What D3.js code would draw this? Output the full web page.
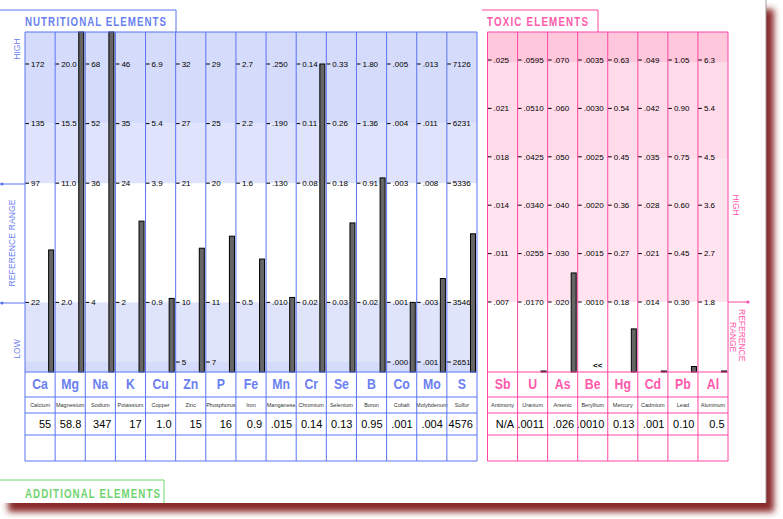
<!DOCTYPE html>
<html>
<head>
<meta charset="utf-8">
<script src="https://cdn.jsdelivr.net/npm/d3@7"></script>
<style>
  body { margin: 0; background: #fff; }
  svg { display: block; font-family: Arial, "Liberation Sans", sans-serif; }
</style>
</head>
<body>
<svg id="chart" width="783" height="519"></svg>
<script>
// ---- data ----
const nutriSymbols = ["Ca","Mg","Na","K","Cu","Zn","P","Fe","Mn","Cr","Se","B","Co","Mo","S"]
const nutriNames = ["Calcium","Magnesium","Sodium","Potassium","Copper","Zinc","Phosphorus","Iron",
                    "Manganese","Chromium","Selenium","Boron","Cobalt","Molybdenum","Sulfur"]
const nutriResults = ["55","58.8","347","17","1.0","15","16","0.9",".015","0.14","0.13","0.95",".001",".004","4576"]
// tick labels, bottom to top: low, ref low, ref high, mid high, high
const nutriTicks = [
  [null,"22","97","135","172"],
  [null,"2.0","11.0","15.5","20.0"],
  [null,"4","36","52","68"],
  [null,"2","24","35","46"],
  [null,"0.9","3.9","5.4","6.9"],
  ["5","10","21","27","32"],
  ["7","11","20","25","29"],
  [null,"0.5","1.6","2.2","2.7"],
  [null,".010",".130",".190",".250"],
  [null,"0.02","0.08","0.11","0.14"],
  [null,"0.03","0.18","0.26","0.33"],
  [null,"0.02","0.91","1.36","1.80"],
  [".000",".001",".003",".004",".005"],
  [".001",".003",".008",".011",".013"],
  ["2651","3546","5336","6231","7126"]
]

const toxicSymbols = ["Sb","U","As","Be","Hg","Cd","Pb","Al"]
const toxicNames = ["Antimony","Uranium","Arsenic","Beryllium","Mercury","Cadmium","Lead","Aluminum"]
const toxicResults = ["N/A",".0011",".026",".0010","0.13",".001","0.10","0.5"]
const toxicBelowLimit = ["Be"]
// tick labels, bottom to top
const toxicTicks = [
  [".007",".011",".014",".018",".021",".025"],
  [".0170",".0255",".0340",".0425",".0510",".0595"],
  [".020",".030",".040",".050",".060",".070"],
  [".0010",".0015",".0020",".0025",".0030",".0035"],
  ["0.18","0.27","0.36","0.45","0.54","0.63"],
  [".014",".021",".028",".035",".042",".049"],
  ["0.30","0.45","0.60","0.75","0.90","1.05"],
  ["1.8","2.7","3.6","4.5","5.4","6.3"]
]

// ---- layout ----
const svg = d3.select('#chart')
const plotTop = 32, plotBottom = 372
const rowLines = [372, 397, 413, 435, 461]
const blue = '#5b74f2', blueText = '#6a80f2'
const pink = '#ff46a6', pinkText = '#ff5aab'

// card + shadow
const defs = svg.append('defs')
defs.append('filter').attr('id', 'shadow')
    .attr('x', '-5%').attr('y', '-5%').attr('width', '110%').attr('height', '110%')
    .append('feGaussianBlur').attr('stdDeviation', 3)
svg.append('rect').attr('x', 8).attr('y', 9).attr('width', 766).attr('height', 503)
    .attr('fill', '#8a2a2a').attr('filter', 'url(#shadow)')
svg.append('rect').attr('x', 0).attr('y', 0).attr('width', 766).attr('height', 503).attr('fill', '#fff')
svg.append('line').attr('x1', 766).attr('x2', 766).attr('y1', 0).attr('y2', 503)
    .attr('stroke', '#9a9a9a')

// condensed, letter-spaced tab title
function tabTitle(x, y, width, colour, label) {
    svg.append('text')
        .attr('transform', 'translate(' + x + ',' + y + ') scale(0.78,1)')
        .attr('font-size', 12.5).attr('font-weight', 'bold').attr('fill', colour)
        .attr('textLength', width / 0.78).attr('lengthAdjust', 'spacing')
        .text(label)
}

// ---- nutritional panel ----
const xN = d3.scaleBand().domain(nutriSymbols).range([25, 477])
const yN = d3.scaleLinear().domain([0, 5]).range([362, 64])   // tick "levels" to pixels
const nutriLevels = [0, 1, 3, 4, 5]

function nutriScale(ticks) {
    let d = [], r = []
    ticks.forEach(function(t, i) {
        if (t !== null) { d.push(+t); r.push(nutriLevels[i]) }
    })
    return d3.scaleLinear().domain(d).range(r)
}

const nBands = [
    [plotTop, yN(4), '#d5dbfa'],
    [yN(4), yN(3), '#dfe3fb'],
    [yN(1), yN(0), '#e0e4fb'],
    [yN(0), plotBottom, '#d5dbfa']
]
svg.append('g').selectAll('rect').data(nBands).enter().append('rect')
    .attr('x', 25).attr('width', 452)
    .attr('y', d => d[0]).attr('height', d => d[1] - d[0])
    .attr('fill', d => d[2])

// bars
const nGroup = svg.append('g').selectAll('g').data(nutriSymbols).enter().append('g')
nGroup.append('rect')
    .attr('x', d => xN(d) + xN.bandwidth() - 6.5)
    .attr('width', 5)
    .attr('y', function(d, i) {
        let s = nutriScale(nutriTicks[i])
        return Math.max(plotTop, yN(s(+nutriResults[i])))
    })
    .attr('height', function(d, i) {
        let s = nutriScale(nutriTicks[i])
        return plotBottom - Math.max(plotTop, yN(s(+nutriResults[i])))
    })
    .attr('fill', '#666').attr('stroke', '#000').attr('stroke-width', 1)

// ticks
nGroup.each(function(sym, i) {
    let ticks = nutriTicks[i].map((t, k) => ({ t: t, lv: nutriLevels[k] })).filter(o => o.t !== null)
    let g = d3.select(this).selectAll('g.tick').data(ticks).enter().append('g')
        .attr('transform', o => 'translate(' + xN(sym) + ',' + yN(o.lv) + ')')
    g.append('line').attr('x1', 0).attr('x2', 4).attr('stroke', '#000')
    g.append('text').attr('x', 6).attr('dy', '0.35em').attr('font-size', 8).text(o => o.t)
})

// grid
const ng = svg.append('g').attr('stroke', blue).attr('fill', 'none')
ng.selectAll('line.v').data(d3.range(16)).enter().append('line')
    .attr('x1', i => 25 + i * xN.bandwidth()).attr('x2', i => 25 + i * xN.bandwidth())
    .attr('y1', plotTop).attr('y2', 461)
ng.selectAll('line.h').data([plotTop].concat(rowLines)).enter().append('line')
    .attr('x1', 25).attr('x2', 477).attr('y1', d => d).attr('y2', d => d)
ng.append('path').attr('d', 'M0,10H176V32')
ng.append('path').attr('d', 'M0,184H25M0,303H25')
svg.selectAll('circle.n').data([184, 303]).enter().append('circle')
    .attr('cx', 2).attr('cy', d => d).attr('r', 1.5).attr('fill', blue)

// table text
nGroup.append('text')
    .attr('transform', d => 'translate(' + (xN(d) + xN.bandwidth() / 2) + ',389) scale(0.82,1)')
    .attr('text-anchor', 'middle').attr('font-size', 15).attr('font-weight', 'bold')
    .attr('fill', blueText).text(d => d)
nGroup.append('text')
    .attr('x', d => xN(d) + xN.bandwidth() / 2).attr('y', 407)
    .attr('text-anchor', 'middle').attr('font-size', 5.5).attr('fill', '#333')
    .text((d, i) => nutriNames[i])
nGroup.append('text')
    .attr('x', d => xN(d) + xN.bandwidth() - 4).attr('y', 428)
    .attr('text-anchor', 'end').attr('font-size', 11).attr('fill', '#000')
    .text((d, i) => nutriResults[i])

// titles and axis words
tabTitle(25, 26, 141, blueText, 'NUTRITIONAL ELEMENTS')
const leftWords = [['HIGH', 19.5, 49, null], ['REFERENCE RANGE', 15, 243, 87], ['LOW', 19.5, 349, null]]
leftWords.forEach(function(w) {
    let t = svg.append('text').attr('transform', 'translate(' + w[1] + ',' + w[2] + ') rotate(-90)')
        .attr('text-anchor', 'middle').attr('font-size', 8.5).attr('fill', blueText).text(w[0])
    if (w[3]) t.attr('textLength', w[3]).attr('lengthAdjust', 'spacing')
})

// ---- toxic panel ----
const xT = d3.scaleBand().domain(toxicSymbols).range([487.5, 728])
const yT = d3.scaleLinear().domain([0, 5]).range([302, 60])

const tBands = [
    [plotTop, yT(5) + 2, '#ffc7dc'],
    [yT(5) + 2, yT(3) + 2, '#ffdbea'],
    [yT(3) + 2, yT(0), '#ffe4ef']
]
svg.append('g').selectAll('rect').data(tBands).enter().append('rect')
    .attr('x', 487.5).attr('width', 240.5)
    .attr('y', d => d[0]).attr('height', d => d[1] - d[0])
    .attr('fill', d => d[2])

const tGroup = svg.append('g').selectAll('g').data(toxicSymbols).enter().append('g')
tGroup.each(function(sym, i) {
    let g = d3.select(this)
    let v = +toxicResults[i]
    let s = d3.scaleLinear().domain([+toxicTicks[i][0], +toxicTicks[i][5]]).range([0, 5])
    if (toxicBelowLimit.includes(sym)) {
        g.append('text').attr('x', xT(sym) + xT.bandwidth() / 2 + 5).attr('y', 368)
            .attr('text-anchor', 'middle').attr('font-size', 8).attr('font-weight', 'bold').text('<<')
    } else if (!isNaN(v)) {
        let y = Math.min(plotBottom - 1, yT(s(v)))
        g.append('rect').attr('x', xT(sym) + xT.bandwidth() - 6.5).attr('width', 5)
            .attr('y', y).attr('height', plotBottom - y)
            .attr('fill', '#666').attr('stroke', '#000')
    }
    let tk = g.selectAll('g.tick').data(toxicTicks[i]).enter().append('g')
        .attr('transform', (t, k) => 'translate(' + xT(sym) + ',' + yT(k) + ')')
    tk.append('line').attr('x1', 0).attr('x2', 4).attr('stroke', '#000')
    tk.append('text').attr('x', 6).attr('dy', '0.35em').attr('font-size', 8).text(t => t)
})

const tg = svg.append('g').attr('stroke', pink).attr('fill', 'none')
tg.selectAll('line.v').data(d3.range(9)).enter().append('line')
    .attr('x1', i => 487.5 + i * xT.bandwidth()).attr('x2', i => 487.5 + i * xT.bandwidth())
    .attr('y1', plotTop).attr('y2', 461)
tg.selectAll('line.h').data([plotTop].concat(rowLines)).enter().append('line')
    .attr('x1', 487.5).attr('x2', 728).attr('y1', d => d).attr('y2', d => d)
tg.append('path').attr('d', 'M482,10H598V32')
tg.append('path').attr('d', 'M728,302H748')
svg.append('circle').attr('cx', 748).attr('cy', 302).attr('r', 1.5).attr('fill', pink)

tGroup.append('text')
    .attr('transform', d => 'translate(' + (xT(d) + xT.bandwidth() / 2) + ',389) scale(0.82,1)')
    .attr('text-anchor', 'middle').attr('font-size', 15).attr('font-weight', 'bold')
    .attr('fill', pinkText).text(d => d)
tGroup.append('text')
    .attr('x', d => xT(d) + xT.bandwidth() / 2).attr('y', 407)
    .attr('text-anchor', 'middle').attr('font-size', 5.5).attr('fill', '#333')
    .text((d, i) => toxicNames[i])
tGroup.append('text')
    .attr('x', d => xT(d) + xT.bandwidth() - 3.5).attr('y', 428)
    .attr('text-anchor', 'end').attr('font-size', 11).attr('fill', '#000')
    .text((d, i) => toxicResults[i])

tabTitle(487, 26, 101, pinkText, 'TOXIC ELEMENTS')
const rightWords = [['HIGH', 733, 205, 'middle'], ['REFERENCE', 738.5, 309, 'start'], ['RANGE', 729.5, 322, 'start']]
rightWords.forEach(function(w) {
    svg.append('text').attr('transform', 'translate(' + w[1] + ',' + w[2] + ') rotate(90)')
        .attr('text-anchor', w[3]).attr('font-size', 8.5).attr('fill', pinkText).text(w[0])
})

// ---- additional elements tab ----
svg.append('path').attr('d', 'M0,480H164V503').attr('fill', 'none').attr('stroke', '#6fd46f')
tabTitle(25, 497.5, 135, '#6fd46f', 'ADDITIONAL ELEMENTS')
</script>
</body>
</html>
